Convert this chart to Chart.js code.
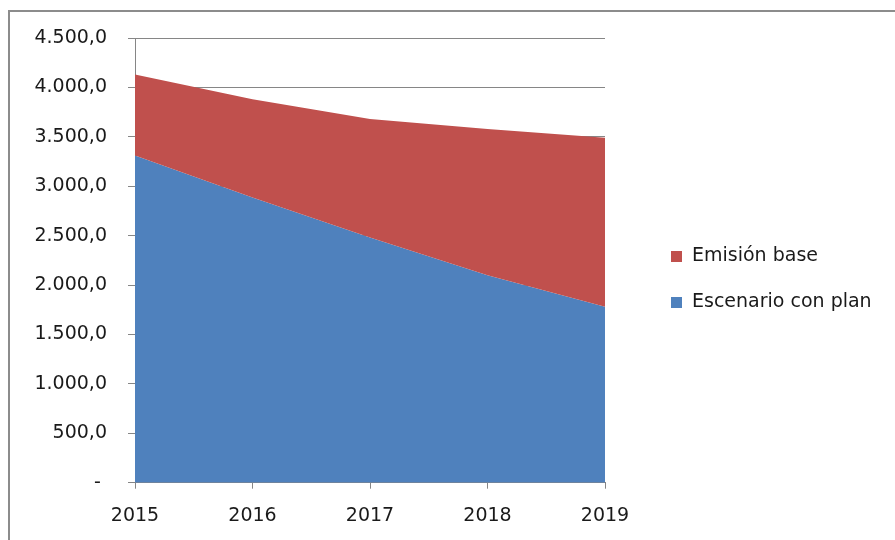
<!DOCTYPE html>
<html>
<head>
<meta charset="utf-8">
<script src="https://cdn.jsdelivr.net/npm/chart.js@4/dist/chart.umd.min.js"></script>
<style>
  body { margin: 0; background: #fff; overflow: hidden; }
  #frame { position: absolute; left: 8px; top: 10px; width: 1000px; height: 1000px;
           border-left: 2px solid #8c8c8c; border-top: 2px solid #8c8c8c; }
  #chart { position: absolute; left: 0; top: 0; }
</style>
</head>
<body>
<div id="frame"></div>
<canvas id="chart" width="895" height="540"></canvas>
<script>
// Emisiones por año: línea base y escenario con plan
const years = ['2015', '2016', '2017', '2018', '2019'];
const emisionBase = [4130, 3880, 3680, 3580, 3490];
const escenarioPlan = [3310, 2885, 2480, 2100, 1780];
const yTicks = [0, 500, 1000, 1500, 2000, 2500, 3000, 3500, 4000, 4500];

const RED = '#c0504d';
const BLUE = '#4f81bd';
const GRID = '#868686';
const TEXT = '#1a1a1a';
const FONT = { family: '"DejaVu Sans", sans-serif', size: 19 };

// 4500 -> "4.500,0", 0 -> "-"
function formatNum(v) {
    if (v === 0) return '- ';
    let s = Math.round(v).toString();
    s = s.replace(/\B(?=(\d{3})+(?!\d))/g, '.');
    return s + ',0';
}

// legend to the right of the plot, one row per dataset
const sideLegend = {
    id: 'sideLegend',
    afterDraw(chart) {
        const { ctx, chartArea } = chart;
        ctx.save();
        ctx.font = FONT.size + 'px ' + FONT.family;
        ctx.textBaseline = 'middle';
        ctx.textAlign = 'left';
        chart.data.datasets.forEach((ds, i) => {
            const y = chartArea.top + 218 + i * 46;
            const x = chartArea.right + 66;
            ctx.fillStyle = ds.backgroundColor;
            ctx.fillRect(x, y - 5, 11, 11);
            ctx.fillStyle = TEXT;
            ctx.fillText(ds.label, x + 21, y);
        });
        ctx.restore();
    }
};

var ctx = document.getElementById('chart').getContext('2d');

new Chart(ctx, {
    type: 'line',
    data: {
        labels: years,
        datasets: [
            {
                label: 'Emisión base',
                data: emisionBase,
                backgroundColor: RED,
                borderColor: RED,
                borderWidth: 0,
                pointRadius: 0,
                fill: '+1',
                tension: 0
            },
            {
                label: 'Escenario con plan',
                data: escenarioPlan,
                backgroundColor: BLUE,
                borderColor: BLUE,
                borderWidth: 0,
                pointRadius: 0,
                fill: 'origin',
                tension: 0
            }
        ]
    },
    plugins: [sideLegend],
    options: {
        responsive: false,
        animation: false,
        layout: { padding: { left: 0, top: 38, right: 290, bottom: 0 } },
        plugins: {
            tooltip: { enabled: false },
            legend: { display: false }
        },
        scales: {
            x: {
                offset: false,
                grid: { drawOnChartArea: false, color: GRID, tickLength: 6 },
                border: { color: GRID },
                ticks: { font: FONT, color: TEXT, padding: 16, maxRotation: 0 },
                afterFit: s => { s.height = 57.3; }
            },
            y: {
                min: 0,
                max: 4500,
                afterBuildTicks: s => { s.ticks = yTicks.map(v => ({ value: v })); },
                grid: { color: GRID, tickLength: 7 },
                border: { color: GRID },
                ticks: { font: FONT, color: TEXT, padding: 21, callback: formatNum },
                afterFit: s => { s.width = 135; }
            }
        }
    }
});
</script>
</body>
</html>
